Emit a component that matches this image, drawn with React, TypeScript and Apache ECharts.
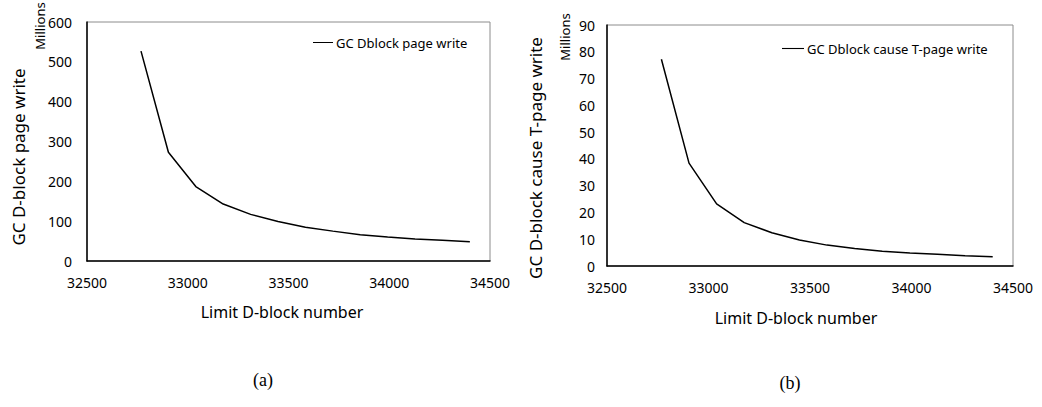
import React, { useEffect, useRef } from "react";
import * as echarts from "echarts";

const limitDBlock = [32768, 32904, 33040, 33176, 33312, 33448, 33584, 33720, 33856, 33992, 34128, 34264, 34400];
const gcPageWrite = [527, 273, 187, 143, 117, 99, 85, 75, 66, 60, 55, 52, 48.5];
const gcTPageWrite = [77.2, 38.4, 23.2, 16.2, 12.4, 9.7, 7.8, 6.5, 5.5, 4.9, 4.4, 3.8, 3.5];

const seriesNameA = "GC Dblock page write";
const seriesNameB = "GC Dblock cause T-page write";
const yTitleA = "GC D-block page write";
const yTitleB = "GC D-block cause T-page write";
const xTitle = "Limit D-block number";
const unitLabel = "Millions";

const FONT = "'Noto Sans', 'Open Sans', sans-serif";

export default function App() {
  const ref = useRef<HTMLDivElement>(null);
  useEffect(() => {
    document.body.style.margin = "0";
    if (!ref.current) return;
    const chart = echarts.init(ref.current, null, { renderer: "svg" });
    const xAxisBase = (gridIndex: number) => ({
      type: "value" as const,
      gridIndex,
      min: 32500,
      max: 34500,
      interval: 500,
      axisLine: { show: true, lineStyle: { color: "#000", width: 1.5 } },
      axisTick: { show: false },
      splitLine: { show: false },
      axisLabel: { color: "#000", fontSize: 14, fontFamily: FONT, margin: 14, formatter: (v: number) => String(v) },
    });
    const yAxisBase = (gridIndex: number, max: number, interval: number, margin: number) => ({
      type: "value" as const,
      gridIndex,
      min: 0,
      max,
      interval,
      axisLine: { show: true, lineStyle: { color: "#000", width: 1.5 } },
      axisTick: { show: false },
      splitLine: { show: false },
      axisLabel: { color: "#000", fontSize: 14, fontFamily: FONT, margin },
    });
    const lineIcon = "path://M0,0 L20,0 L20,1 L0,1 Z";
    chart.setOption({
      animation: false,
      backgroundColor: "#fff",
      grid: [
        { left: 87, top: 22, width: 403, height: 239, show: true, borderColor: "#8c8c8c", borderWidth: 1, backgroundColor: "transparent" },
        { left: 607, top: 25, width: 406, height: 241, show: true, borderColor: "#8c8c8c", borderWidth: 1, backgroundColor: "transparent" },
      ],
      xAxis: [xAxisBase(0), xAxisBase(1)],
      yAxis: [yAxisBase(0, 600, 100, 15), yAxisBase(1, 90, 10, 12)],
      legend: [
        {
          data: [seriesNameA],
          left: 313,
          top: 36,
          padding: 0,
          icon: lineIcon,
          itemWidth: 20,
          itemHeight: 1.2,
          itemGap: 4,
          textStyle: { color: "#000", fontSize: 13, fontFamily: FONT, padding: [0, 0, 0, -2] },
        },
        {
          data: [seriesNameB],
          left: 782,
          top: 42,
          padding: 0,
          icon: lineIcon,
          itemWidth: 22,
          itemHeight: 1.2,
          textStyle: { color: "#000", fontSize: 13, fontFamily: FONT, padding: [0, 0, 0, -2] },
        },
      ],
      series: [
        {
          name: seriesNameA,
          type: "line",
          xAxisIndex: 0,
          yAxisIndex: 0,
          showSymbol: false,
          lineStyle: { color: "#000", width: 1.5 },
          itemStyle: { color: "#000" },
          data: limitDBlock.map((x, i) => [x, gcPageWrite[i]]),
        },
        {
          name: seriesNameB,
          type: "line",
          xAxisIndex: 1,
          yAxisIndex: 1,
          showSymbol: false,
          lineStyle: { color: "#000", width: 1.5 },
          itemStyle: { color: "#000" },
          data: limitDBlock.map((x, i) => [x, gcTPageWrite[i]]),
        },
      ],
      graphic: [
        { type: "text", x: 18, y: 157, rotation: Math.PI / 2, style: { text: yTitleA, fill: "#000", font: `17px ${FONT}`, align: "center", verticalAlign: "middle" } },
        { type: "text", x: 535, y: 158, rotation: Math.PI / 2, style: { text: yTitleB, fill: "#000", font: `17px ${FONT}`, align: "center", verticalAlign: "middle" } },
        { type: "text", x: 40, y: 26, rotation: Math.PI / 2, style: { text: unitLabel, fill: "#000", font: `13px ${FONT}`, align: "center", verticalAlign: "middle" } },
        { type: "text", x: 565, y: 37, rotation: Math.PI / 2, style: { text: unitLabel, fill: "#000", font: `13px ${FONT}`, align: "center", verticalAlign: "middle" } },
        { type: "text", x: 282, y: 312, style: { text: xTitle, fill: "#000", font: `16px ${FONT}`, align: "center", verticalAlign: "middle" } },
        { type: "text", x: 796, y: 318, style: { text: xTitle, fill: "#000", font: `16px ${FONT}`, align: "center", verticalAlign: "middle" } },
        { type: "text", x: 263, y: 380, style: { text: "(a)", fill: "#000", font: `18px 'Liberation Serif', serif`, align: "center", verticalAlign: "middle" } },
        { type: "text", x: 790, y: 383, style: { text: "(b)", fill: "#000", font: `18px 'Liberation Serif', serif`, align: "center", verticalAlign: "middle" } },
      ],
    });
    return () => chart.dispose();
  }, []);
  return <div ref={ref} style={{ width: 1042, height: 407, background: "#fff" }} />;
}
